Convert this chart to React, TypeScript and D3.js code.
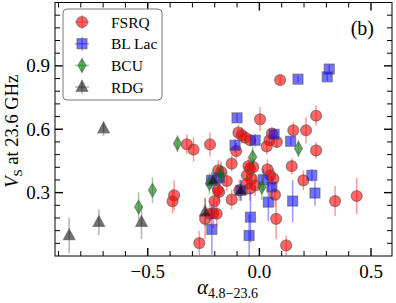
import React from "react";
import * as d3 from "d3";

type P = [number, number, number];

const FSRQ: P[] = [
  [0.093, 0.833, 0.02], [0.003, 0.647, 0.057], [0.254, 0.664, 0.047], [0.152, 0.595, 0.038],
  [0.209, 0.595, 0.062], [-0.094, 0.584, 0.038], [-0.079, 0.572, 0.038], [-0.064, 0.561, 0.03],
  [-0.042, 0.548, 0.03], [-0.104, 0.497, 0.038], [0.056, 0.58, 0.03], [0.045, 0.548, 0.03],
  [0.078, 0.54, 0.03], [0.033, 0.519, 0.038], [0.254, 0.5, 0.038], [-0.325, 0.529, 0.047],
  [-0.295, 0.504, 0.057], [-0.221, 0.528, 0.057], [-0.124, 0.437, 0.038], [-0.042, 0.414, 0.047],
  [-0.049, 0.426, 0.04], [-0.027, 0.421, 0.04], [0.036, 0.41, 0.047], [0.145, 0.425, 0.038],
  [-0.184, 0.406, 0.047], [-0.146, 0.355, 0.047], [-0.18, 0.303, 0.047], [-0.201, 0.26, 0.071],
  [-0.124, 0.267, 0.047], [-0.243, 0.176, 0.095], [-0.206, 0.203, 0.071], [-0.191, 0.2, 0.06],
  [-0.269, 0.061, 0.057], [-0.382, 0.287, 0.071], [-0.389, 0.259, 0.057], [-0.056, 0.382, 0.057],
  [-0.034, 0.366, 0.05], [-0.042, 0.319, 0.057], [-0.056, 0.342, 0.05], [-0.019, 0.334, 0.05],
  [0.048, 0.382, 0.05], [0.063, 0.366, 0.05], [0.07, 0.29, 0.057], [0.075, 0.176, 0.095],
  [0.12, 0.05, 0.047], [0.197, 0.358, 0.047], [0.339, 0.26, 0.071], [0.436, 0.284, 0.085],
  [-0.09, 0.311, 0.05], [-0.171, 0.398, 0.047], [-0.186, 0.311, 0.05], [-0.221, 0.2, 0.06],
];

const BLLAC: P[] = [
  [0.173, 0.837, 0.015], [0.313, 0.885, 0.02], [0.304, 0.848, 0.02], [-0.1, 0.654, 0.02],
  [-0.019, 0.548, 0.03], [-0.109, 0.524, 0.03], [0.066, 0.576, 0.03], [0.14, 0.543, 0.02],
  [0.018, 0.361, 0.05], [0.056, 0.327, 0.05], [0.04, 0.255, 0.09], [-0.04, 0.184, 0.12],
  [-0.046, 0.097, 0.1], [0.149, 0.26, 0.1], [0.249, 0.298, 0.06], [0.235, 0.382, 0.03],
  [-0.213, 0.126, 0.12], [-0.214, 0.358, 0.04], [-0.179, 0.371, 0.04], [-0.083, 0.311, 0.05],
];

const BCU: P[] = [
  [-0.367, 0.532, 0.04], [-0.479, 0.311, 0.06], [-0.541, 0.232, 0.07], [-0.03, 0.469, 0.05],
  [0.175, 0.509, 0.04], [-0.224, 0.343, 0.05], [-0.174, 0.387, 0.05], [0.011, 0.326, 0.06],
];

const RDG: P[] = [
  [-0.852, 0.097, 0.085], [-0.719, 0.16, 0.06], [-0.698, 0.603, 0.035], [-0.528, 0.16, 0.08],
  [-0.243, 0.208, 0.07], [-0.083, 0.311, 0.05], [-0.207, 0.358, 0.05],
];

const X_MAJOR = [-0.5, 0, 0.5];
const X_MINOR = [-0.9, -0.8, -0.7, -0.6, -0.4, -0.3, -0.2, -0.1, 0.1, 0.2, 0.3, 0.4];
const Y_MAJOR = [0.3, 0.6, 0.9];
const Y_MINOR = [0.06, 0.12, 0.18, 0.24, 0.36, 0.42, 0.48, 0.54, 0.66, 0.72, 0.78, 0.84, 0.96, 1.02, 1.08, 1.14];
const LEGEND = ["FSRQ", "BL Lac", "BCU", "RDG"];

const L = 55, R = 392, T = 2.5, B = 256;
const x = d3.scaleLinear().domain([-0.9155, 0.594]).range([L, R]);
const y = d3.scaleLinear().domain([0, 1.2]).range([B, T]);

const FONT = "'Liberation Serif', 'Times New Roman', serif";

type Kind = "circle" | "square" | "diamond" | "triangle";
const STYLE: Record<string, { color: string; kind: Kind; op: number }> = {
  FSRQ: { color: "#ff0000", kind: "circle", op: 0.6 },
  "BL Lac": { color: "#0000ff", kind: "square", op: 0.55 },
  BCU: { color: "#008000", kind: "diamond", op: 0.6 },
  RDG: { color: "#000000", kind: "triangle", op: 0.55 },
};

function Marker({ cx, cy, kind, color, op }: { cx: number; cy: number; kind: Kind; color: string; op: number }) {
  const common = { fill: color, fillOpacity: op, stroke: "#555", strokeOpacity: 0.6, strokeWidth: 1.2 };
  if (kind === "circle") return <circle cx={cx} cy={cy} r={5.5} {...common} />;
  if (kind === "square") return <rect x={cx - 5} y={cy - 5} width={10} height={10} {...common} />;
  if (kind === "diamond")
    return <path d={`M${cx},${cy - 6.8}L${cx + 4},${cy}L${cx},${cy + 6.8}L${cx - 4},${cy}Z`} {...common} />;
  return <path d={`M${cx},${cy - 6.5}L${cx + 5.8},${cy + 4.2}L${cx - 5.8},${cy + 4.2}Z`} {...common} />;
}

function Series({ name, data }: { name: string; data: P[] }) {
  const s = STYLE[name];
  return (
    <g>
      {data.map((d, i) => (
        <line key={"e" + i} x1={x(d[0])} x2={x(d[0])} y1={y(d[1] - d[2])} y2={y(d[1] + d[2])}
          stroke={s.color === "#000000" ? "#444" : s.color} strokeOpacity={0.4} strokeWidth={1.5} />
      ))}
      {data.map((d, i) => (
        <Marker key={"m" + i} cx={x(d[0])} cy={y(d[1])} kind={s.kind} color={s.color} op={s.op} />
      ))}
    </g>
  );
}

export default function App() {
  const tickStroke = "#000";
  return (
    <svg width={396} height={303} style={{ position: "absolute", left: 0, top: 0, background: "#fff" }}>
      <rect x={0} y={0} width={396} height={303} fill="#fff" />
      <Series name="FSRQ" data={FSRQ} />
      <Series name="BL Lac" data={BLLAC} />
      <Series name="BCU" data={BCU} />
      <Series name="RDG" data={RDG} />

      {/* frame */}
      <rect x={L} y={T} width={R - L} height={B - T} fill="none" stroke="#000" strokeWidth={1} />
      {X_MAJOR.map((v) => (
        <g key={"xM" + v}>
          <line x1={x(v)} x2={x(v)} y1={B} y2={B - 8} stroke={tickStroke} strokeWidth={1.4} />
          <line x1={x(v)} x2={x(v)} y1={T} y2={T + 8} stroke={tickStroke} strokeWidth={1.4} />
          <text x={x(v)} y={277.5} textAnchor="middle" fontFamily={FONT} fontSize={19}>
            {v < 0 ? "\u2212" + Math.abs(v).toFixed(1) : v.toFixed(1)}
          </text>
        </g>
      ))}
      {X_MINOR.map((v) => (
        <g key={"xm" + v}>
          <line x1={x(v)} x2={x(v)} y1={B} y2={B - 5} stroke={tickStroke} strokeWidth={1} />
          <line x1={x(v)} x2={x(v)} y1={T} y2={T + 5} stroke={tickStroke} strokeWidth={1} />
        </g>
      ))}
      {Y_MAJOR.map((v) => (
        <g key={"yM" + v}>
          <line x1={L} x2={L + 8} y1={y(v)} y2={y(v)} stroke={tickStroke} strokeWidth={1.4} />
          <line x1={R} x2={R - 8} y1={y(v)} y2={y(v)} stroke={tickStroke} strokeWidth={1.4} />
          <text x={50} y={y(v) + 6.5} textAnchor="end" fontFamily={FONT} fontSize={19}>
            {v.toFixed(1)}
          </text>
        </g>
      ))}
      {Y_MINOR.map((v) => (
        <g key={"ym" + v}>
          <line x1={L} x2={L + 5} y1={y(v)} y2={y(v)} stroke={tickStroke} strokeWidth={1} />
          <line x1={R} x2={R - 5} y1={y(v)} y2={y(v)} stroke={tickStroke} strokeWidth={1} />
        </g>
      ))}

      {/* axis labels */}
      <text transform={`translate(18,${(T + B) / 2 + 2}) rotate(-90)`} textAnchor="middle" fontFamily={FONT} fontSize={18.5}>
        <tspan fontStyle="italic">V</tspan>
        <tspan fontSize={13} dy={4}>S</tspan>
        <tspan dy={-4}> at 23.6 GHz</tspan>
      </text>
      <text x={(L + R) / 2 + 4} y={294} textAnchor="middle" fontFamily={FONT} fontSize={21}>
        <tspan fontStyle="italic">α</tspan>
        <tspan fontSize={14} dy={4}>4.8−23.6</tspan>
      </text>

      <text x={374} y={35} textAnchor="end" fontFamily={FONT} fontSize={20}>(b)</text>

      {/* legend */}
      <rect x={63} y={9} width={99} height={91} rx={4} fill="#fff" fillOpacity={0.9} stroke="#777" strokeWidth={1} />
      {LEGEND.map((name, i) => {
        const s = STYLE[name];
        const cy = 22 + i * 21.7;
        const ec = s.color === "#000000" ? "#444" : s.color;
        return (
          <g key={name}>
            <line x1={75} x2={89} y1={cy} y2={cy} stroke={ec} strokeOpacity={0.4} strokeWidth={1.5} />
            <line x1={82} x2={82} y1={cy - 7} y2={cy + 7} stroke={ec} strokeOpacity={0.4} strokeWidth={1.5} />
            <Marker cx={82} cy={cy} kind={s.kind} color={s.color} op={s.op} />
            <text x={111} y={cy + 5.5} fontFamily={FONT} fontSize={15.5}>{name}</text>
          </g>
        );
      })}
    </svg>
  );
}
